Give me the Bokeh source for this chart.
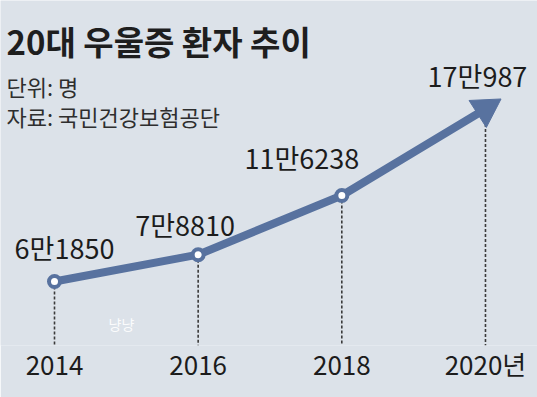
from bokeh.plotting import figure
from bokeh.models import Range1d, FixedTicker, Label
from bokeh.core.properties import value
from bokeh.embed import file_html
from bokeh.resources import INLINE

# ---- data ----
years = [2014, 2016, 2018, 2020]
patients = [61850, 78810, 116238, 170987]
value_labels = ["6만1850", "7만8810", "11만6238", "17만987"]
tick_labels = ["2014", "2016", "2018", "2020년"]
title_text = "20대 우울증 환자 추이"
unit_text = "단위: 명"
source_text = "자료: 국민건강보험공단"
watermark_text = "냥냥"

# ---- style ----
BG = "#dce2e9"
BLUE = "#58729f"
KR_FONT = "Noto Sans CJK KR"
label_dx = [10, -13, -40, -8]
label_dy = [-34, -30, -38, -33]

y_lo, y_hi = 21369, 239586
p = figure(frame_width=537, frame_height=345,
           x_range=Range1d(2013.2482, 2020.7243), y_range=Range1d(y_lo, y_hi),
           output_backend="svg", toolbar_location=None, min_border=0,
           min_border_bottom=52, y_axis_location=None)
p.background_fill_color = BG
p.border_fill_color = BG
p.outline_line_color = None
p.xgrid.visible = False
p.ygrid.visible = False

# dashed drop lines
p.segment(x0=years, y0=patients, x1=years, y1=[y_lo] * len(years),
          line_color="#3a3a3a", line_width=1.6, line_dash="3 2")
# main line
p.line(years, patients, line_width=8, line_color=BLUE, line_join="round")
# arrow head at last point
p.scatter([years[-1]], [patients[-1]], marker="triangle", size=32,
          angle=-1.0, fill_color=BLUE, line_color=BLUE)
# point markers
p.scatter(years[:-1], patients[:-1], size=11, fill_color="white",
          line_color=BLUE, line_width=4)
# value labels
p.text(x=years, y=patients, text=value_labels, x_offset=label_dx, y_offset=label_dy,
       text_align="center", text_baseline="middle", text_font=value(KR_FONT),
       text_font_size="27px", text_color="#1c1c1c")

# axis
ax = p.xaxis[0]
ax.ticker = FixedTicker(ticks=years)
ax.major_label_overrides = {y: t for y, t in zip(years, tick_labels)}
ax.axis_line_color = None
ax.major_tick_line_color = None
ax.minor_tick_line_color = None
ax.major_tick_out = 0
ax.major_tick_in = 0
ax.major_label_standoff = -1
ax.major_label_text_font = KR_FONT
ax.major_label_text_font_size = "26px"
ax.major_label_text_color = "#1c1c1c"

# titles
p.add_layout(Label(x=6, y=305, x_units="screen", y_units="screen", text=title_text,
                   text_font=KR_FONT, text_font_size="33px", text_font_style="bold",
                   text_color="#1e1e1e", text_baseline="middle", text_align="left"))
p.add_layout(Label(x=6, y=260, x_units="screen", y_units="screen", text=unit_text,
                   text_font=KR_FONT, text_font_size="22px",
                   text_color="#2e2e2e", text_baseline="middle", text_align="left"))
p.add_layout(Label(x=6, y=230, x_units="screen", y_units="screen", text=source_text,
                   text_font=KR_FONT, text_font_size="22px",
                   text_color="#2e2e2e", text_baseline="middle", text_align="left"))
p.add_layout(Label(x=121, y=22, x_units="screen", y_units="screen", text=watermark_text,
                   text_font=KR_FONT, text_font_size="14px",
                   text_color="white", text_alpha=0.9, text_baseline="middle", text_align="center"))

open("out.html", "w").write(file_html(p, INLINE))
